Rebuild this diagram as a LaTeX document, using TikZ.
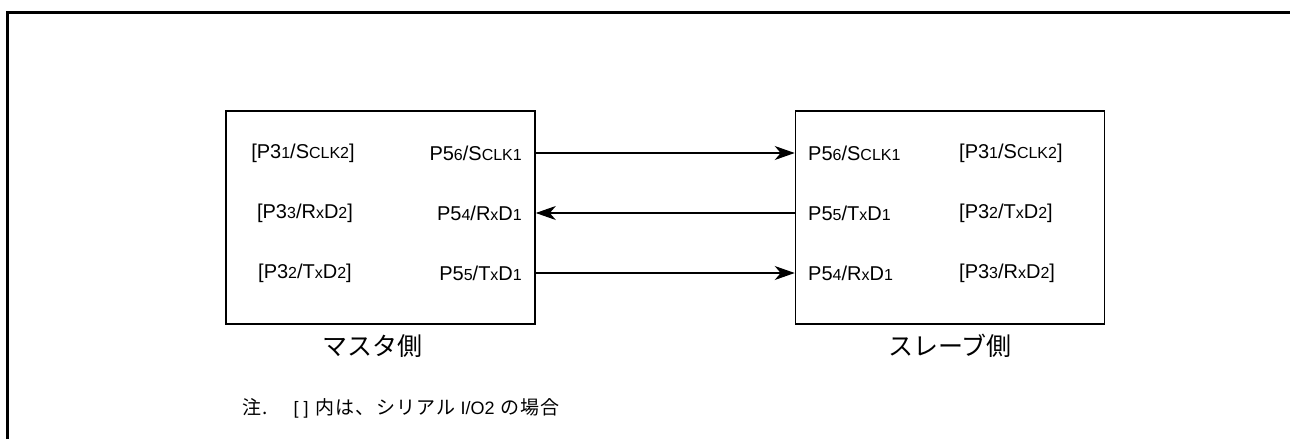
\documentclass[tikz,border=0pt]{standalone}
\usepackage{fontspec}
\setmainfont{Liberation Sans}
\newfontfamily\cjk{Noto Sans CJK JP}
\newfontfamily\cjknote[LetterSpace=6]{Noto Sans CJK JP}
\usetikzlibrary{arrows.meta}
\newcommand{\lsub}[1]{{\fontsize{16}{16}\selectfont #1}}
\tikzset{
  unitbox/.style={draw, line width=1.6pt, minimum width=309pt, minimum height=213pt, inner sep=0pt},
  pin/.style={font=\fontsize{20}{20}\selectfont, inner sep=0pt},
  sig/.style={line width=1.1pt, -{Stealth[length=20pt, width=14pt, inset=6pt]}},
  side/.style={font=\cjk\fontsize{25}{25}\selectfont, inner sep=0pt},
}
\begin{document}
\begin{tikzpicture}[x=1pt, y=-1pt]
\useasboundingbox (0,0) rectangle (1290,439);
\draw[line width=2.4pt] (7.5,439) -- (7.5,12.5) -- (1290,12.5);
\node[unitbox] (master) at (380.5,217.5) {};
\node[unitbox] (slave) at (950,217.5) {};
% master pins
\node[pin] (mL1) at (303,153) {[P3\lsub{1}/S\lsub{CLK2}]};
\node[pin] (mL2) at (305,213) {[P3\lsub{3}/R\lsub{x}D\lsub{2}]};
\node[pin] (mL3) at (305,273) {[P3\lsub{2}/T\lsub{x}D\lsub{2}]};
\node[pin, anchor=east] (mR1) at (522,153) {P5\lsub{6}/S\lsub{CLK1}};
\node[pin, anchor=east] (mR2) at (522,213) {P5\lsub{4}/R\lsub{x}D\lsub{1}};
\node[pin, anchor=east] (mR3) at (522,273) {P5\lsub{5}/T\lsub{x}D\lsub{1}};
% slave pins
\node[pin, anchor=west] (sL1) at (808,153) {P5\lsub{6}/S\lsub{CLK1}};
\node[pin, anchor=west] (sL2) at (808,213) {P5\lsub{5}/T\lsub{x}D\lsub{1}};
\node[pin, anchor=west] (sL3) at (808,273) {P5\lsub{4}/R\lsub{x}D\lsub{1}};
\node[pin, anchor=west] (sR1) at (959,153) {[P3\lsub{1}/S\lsub{CLK2}]};
\node[pin, anchor=west] (sR2) at (959,213) {[P3\lsub{2}/T\lsub{x}D\lsub{2}]};
\node[pin, anchor=west] (sR3) at (959,273) {[P3\lsub{3}/R\lsub{x}D\lsub{2}]};
% signals
\draw[sig] (master.east |- mR1) -- (slave.west |- mR1);
\draw[sig] (slave.west |- mR2) -- (master.east |- mR2);
\draw[sig] (master.east |- mR3) -- (slave.west |- mR3);
% labels
\node[side] (mlab) at (372,346) {マスタ側};
\node[side] (slab) at (950,346) {スレーブ側};
\node[font=\cjknote\fontsize{19}{19}\selectfont, inner sep=0pt, anchor=west] (note) at (242,408)
  {注.\hspace{26pt}{\rmfamily\fontsize{18}{18}\selectfont[\hspace{5pt}]}\hspace{7pt}内は、シリアル {\rmfamily\fontsize{18}{18}\selectfont I/O2} の場合};
\end{tikzpicture}
\end{document}
